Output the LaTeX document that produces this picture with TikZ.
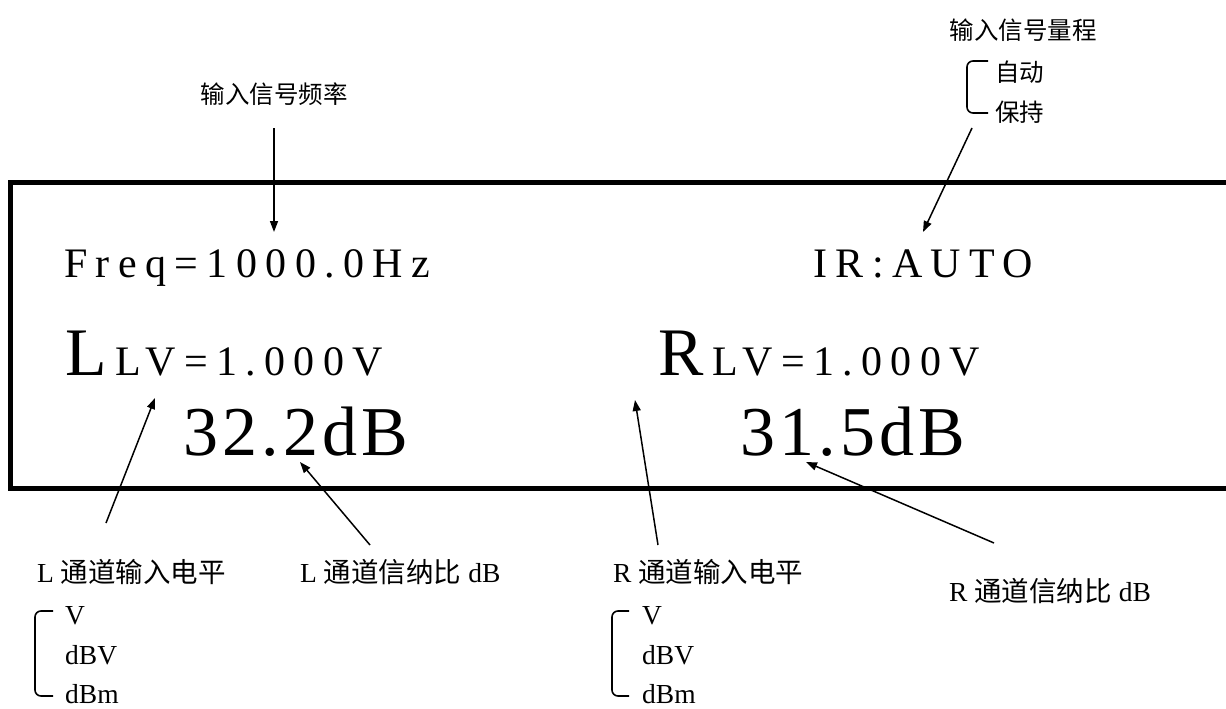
\documentclass[tikz,border=0pt]{standalone}
\usepackage{fontspec}
\setmainfont{Liberation Serif}
\newfontfamily\cjk{Noto Sans CJK SC}
\usetikzlibrary{arrows.meta}
\tikzset{
  frame/.style={line width=5pt, line join=miter},
  pointer/.style={line width=1.5pt, -{Triangle[length=11pt,width=8pt]}},
  brace/.style={line width=1.6pt, rounded corners=6pt},
  lcd/.style={inner sep=0pt, anchor=base west, font=\fontsize{42}{42}\selectfont\addfontfeature{LetterSpace=20}},
  lcdbig/.style={inner sep=0pt, anchor=base west, font=\fontsize{68}{68}\selectfont},
  lcdval/.style={inner sep=0pt, anchor=base west, font=\fontsize{70}{70}\selectfont\addfontfeature{LetterSpace=6}},
  toplabel/.style={inner sep=0pt, font=\fontsize{24.5}{24.5}\selectfont\cjk},
  optlabel/.style={inner sep=0pt, anchor=west, font=\fontsize{24.5}{24.5}\selectfont\cjk},
  botlabel/.style={inner sep=0pt, anchor=base west, font=\fontsize{27.5}{27.5}\selectfont},
}
\begin{document}
\begin{tikzpicture}[x=1pt,y=-1pt]
\useasboundingbox (0,0) rectangle (1226,709);
% display frame (open at right)
\draw[frame] (1240,182.5) -- (10.5,182.5) -- (10.5,488.5) -- (1240,488.5);

% display texts
\node[lcd] (freq) at (64,277) {Freq=1000.0Hz};
\node[lcd] (ir) at (813,277) {IR:AUTO};
\node[lcdbig] (bigL) at (65,375) {L};
\node[lcd] (lvL) at (115,375) {LV=1.000V};
\node[lcdbig] (bigR) at (658,375) {R};
\node[lcd] (lvR) at (712,375) {LV=1.000V};
\node[lcdval] (snrL) at (183,455) {32.2dB};
\node[lcdval] (snrR) at (740,455) {31.5dB};

% top labels
\node[toplabel] (flabel) at (274,94) {输入信号频率};
\node[toplabel] (rlabel) at (1023,30) {输入信号量程};
\node[optlabel] (auto) at (995,72) {自动};
\node[optlabel] (hold) at (995,112) {保持};
\draw[brace] (988,61) -| (967,113) -- (988,113);

% bottom labels
\node[botlabel] (lvlL) at (37,582) {L {\cjk 通道输入电平}};
\node[botlabel] (snrlabL) at (300,582) {L {\cjk 通道信纳比} dB};
\node[botlabel] (lvlR) at (613,582) {R {\cjk 通道输入电平}};
\node[botlabel] (snrlabR) at (949,601) {R {\cjk 通道信纳比} dB};

\node[botlabel] (uLV) at (65,624) {V};
\node[botlabel] (uLdBV) at (65,664) {dBV};
\node[botlabel] (uLdBm) at (65,703) {dBm};
\draw[brace] (53,611) -| (35,696) -- (53,696);

\node[botlabel] (uRV) at (642,624) {V};
\node[botlabel] (uRdBV) at (642,664) {dBV};
\node[botlabel] (uRdBm) at (642,703) {dBm};
\draw[brace] (629,611) -| (612,696) -- (629,696);

% connector end points
\coordinate (fT) at (274,128);  \coordinate (fH) at (274,232);
\coordinate (rT) at (972,128);  \coordinate (rH) at (923,232);
\coordinate (a3T) at (106,523); \coordinate (a3H) at (155,398);
\coordinate (a4T) at (370,545); \coordinate (a4H) at (300,462);
\coordinate (a5T) at (658,545); \coordinate (a5H) at (635,400);
\coordinate (a6T) at (994,543); \coordinate (a6H) at (806,462);

\draw[pointer] (fT) -- (fH);
\draw[pointer] (rT) -- (rH);
\draw[pointer] (a3T) -- (a3H);
\draw[pointer] (a4T) -- (a4H);
\draw[pointer] (a5T) -- (a5H);
\draw[pointer] (a6T) -- (a6H);
\end{tikzpicture}
\end{document}
